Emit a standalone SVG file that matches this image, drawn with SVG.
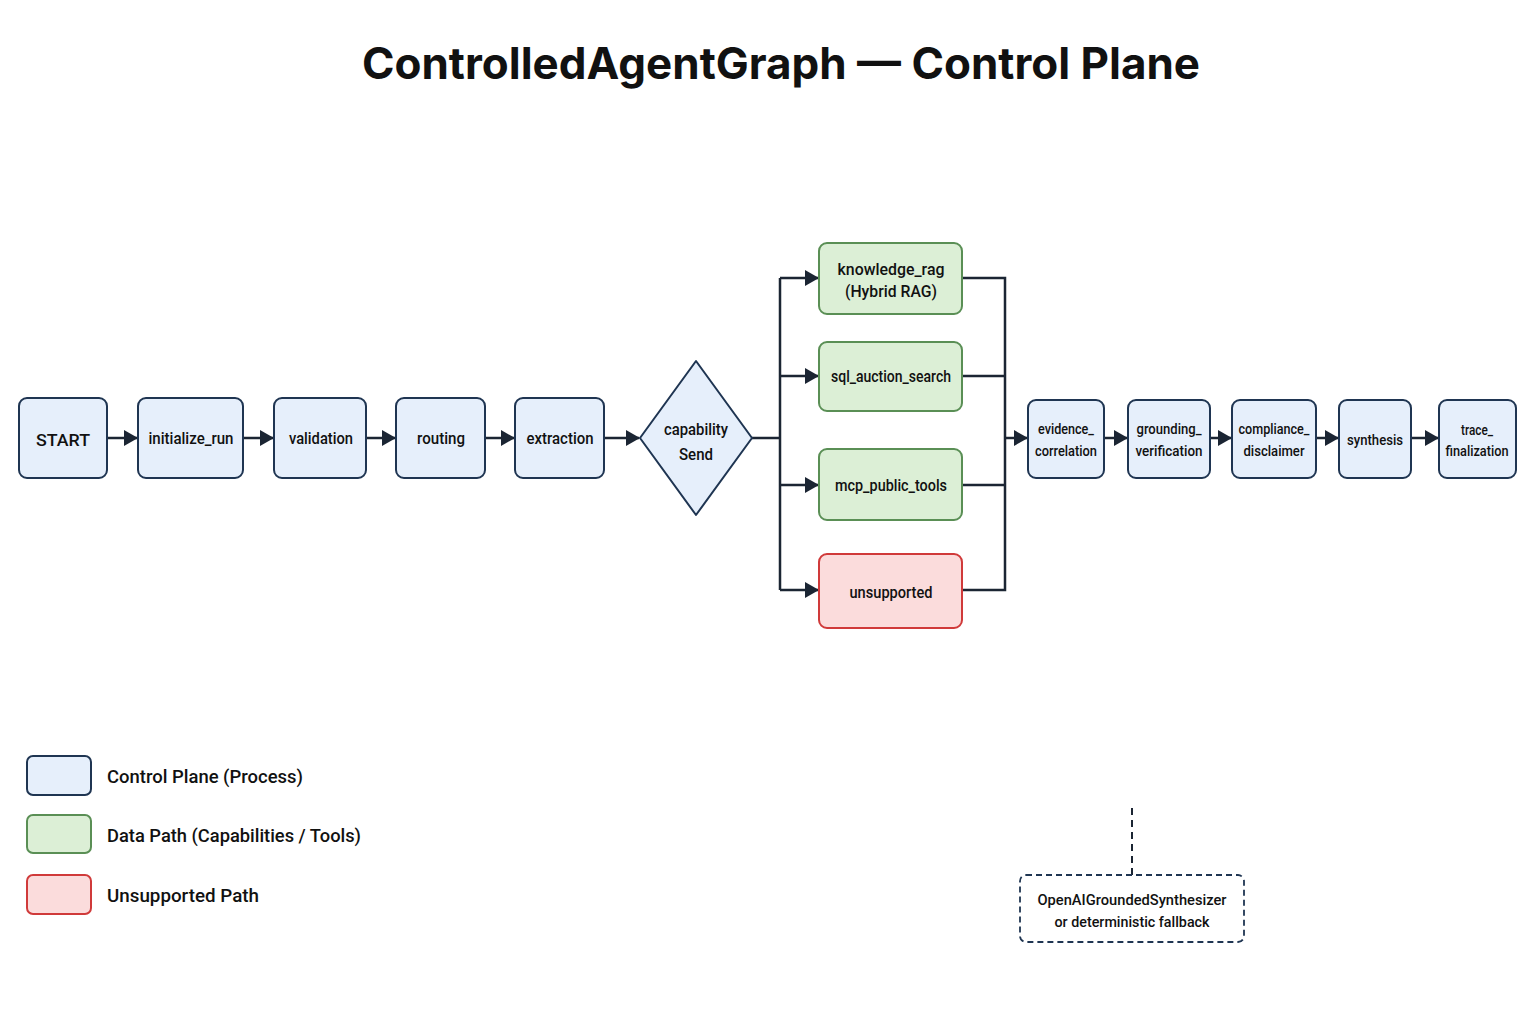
<svg xmlns="http://www.w3.org/2000/svg" width="1536" height="1024" viewBox="0 0 1536 1024">
<defs>
<marker id="ah" markerWidth="14" markerHeight="16" refX="13" refY="8" orient="auto" markerUnits="userSpaceOnUse" viewBox="0 0 14 16"><path d="M0,0 L14,8 L0,16 z" fill="#1b2533"/></marker>
<style>
.cp{fill:#e6effb;stroke:#1f3552;stroke-width:2}
.dp{fill:#dcefd6;stroke:#5a8f55;stroke-width:2}
.up{fill:#fbdcdc;stroke:#d03a3a;stroke-width:2}
.t{font-family:Roboto,"Liberation Sans",sans-serif;font-weight:500;fill:#111;text-anchor:middle;font-size:17px}
.s{font-size:14px}
.lg{font-family:Roboto,"Liberation Sans",sans-serif;font-weight:500;font-size:19px;fill:#111}
.c{fill:none;stroke:#1b2533;stroke-width:2.5}
</style>
</defs>
<rect width="1536" height="1024" fill="#fff"/>
<text x="781" y="79" font-family="Inter,'Liberation Sans',sans-serif" font-size="44" font-weight="bold" text-anchor="middle" fill="#111" textLength="838" lengthAdjust="spacingAndGlyphs">ControlledAgentGraph — Control Plane</text>
<g id="connectors">
<line class="c" x1="107" y1="438" x2="137" y2="438" marker-end="url(#ah)"/>
<line class="c" x1="243" y1="438" x2="273" y2="438" marker-end="url(#ah)"/>
<line class="c" x1="366" y1="438" x2="395" y2="438" marker-end="url(#ah)"/>
<line class="c" x1="485" y1="438" x2="514" y2="438" marker-end="url(#ah)"/>
<line class="c" x1="604" y1="438" x2="639" y2="438" marker-end="url(#ah)"/>
<path class="c" d="M752,438 H780 M780,278 V590"/>
<path class="c" d="M780,278 H818" marker-end="url(#ah)"/>
<path class="c" d="M780,376 H818" marker-end="url(#ah)"/>
<path class="c" d="M780,485 H818" marker-end="url(#ah)"/>
<path class="c" d="M780,590 H818" marker-end="url(#ah)"/>
<path class="c" d="M962,278 H1005 V590 H962 M962,376 H1005 M962,485 H1005"/>
<path class="c" d="M1005,438 H1027" marker-end="url(#ah)"/>
<line class="c" x1="1104" y1="438" x2="1127" y2="438" marker-end="url(#ah)"/>
<line class="c" x1="1210" y1="438" x2="1231" y2="438" marker-end="url(#ah)"/>
<line class="c" x1="1316" y1="438" x2="1338" y2="438" marker-end="url(#ah)"/>
<line class="c" x1="1411" y1="438" x2="1438" y2="438" marker-end="url(#ah)"/>
<line x1="1132" y1="808" x2="1132" y2="875" stroke="#1b2533" stroke-width="2" stroke-dasharray="7,5"/>
</g>
<g id="start"><rect class="cp" x="19" y="398" width="88" height="80" rx="8"/><text class="t" x="63" y="446" font-size="21" textLength="54" lengthAdjust="spacingAndGlyphs">START</text></g>
<g id="initialize_run"><rect class="cp" x="138" y="398" width="105" height="80" rx="8"/><text class="t" x="191" y="444" textLength="85" lengthAdjust="spacingAndGlyphs">initialize_run</text></g>
<g id="validation"><rect class="cp" x="274" y="398" width="92" height="80" rx="8"/><text class="t" x="321" y="444" textLength="64" lengthAdjust="spacingAndGlyphs">validation</text></g>
<g id="routing"><rect class="cp" x="396" y="398" width="89" height="80" rx="8"/><text class="t" x="441" y="444" textLength="48" lengthAdjust="spacingAndGlyphs">routing</text></g>
<g id="extraction"><rect class="cp" x="515" y="398" width="89" height="80" rx="8"/><text class="t" x="560" y="444" textLength="67" lengthAdjust="spacingAndGlyphs">extraction</text></g>
<g id="capability_send"><path class="cp" d="M696,361 L752,438 L696,515 L640,438 Z" stroke-linejoin="round"/><text class="t" x="696" y="435" textLength="64" lengthAdjust="spacingAndGlyphs">capability</text><text class="t" x="696" y="460" textLength="34" lengthAdjust="spacingAndGlyphs">Send</text></g>
<g id="knowledge_rag"><rect class="dp" x="819" y="243" width="143" height="71" rx="8"/><text class="t" x="891" y="275" textLength="107" lengthAdjust="spacingAndGlyphs">knowledge_rag</text><text class="t" x="891" y="297" textLength="92" lengthAdjust="spacingAndGlyphs">(Hybrid RAG)</text></g>
<g id="sql_auction_search"><rect class="dp" x="819" y="342" width="143" height="69" rx="8"/><text class="t" x="891" y="382" textLength="120" lengthAdjust="spacingAndGlyphs">sql_auction_search</text></g>
<g id="mcp_public_tools"><rect class="dp" x="819" y="449" width="143" height="71" rx="8"/><text class="t" x="891" y="491" textLength="112" lengthAdjust="spacingAndGlyphs">mcp_public_tools</text></g>
<g id="unsupported"><rect class="up" x="819" y="554" width="143" height="74" rx="8"/><text class="t" x="891" y="598" textLength="83" lengthAdjust="spacingAndGlyphs">unsupported</text></g>
<g id="evidence_correlation"><rect class="cp" x="1028" y="400" width="76" height="78" rx="8"/><text class="t s" x="1066" y="434" textLength="56" lengthAdjust="spacingAndGlyphs">evidence_</text><text class="t s" x="1066" y="456" textLength="62" lengthAdjust="spacingAndGlyphs">correlation</text></g>
<g id="grounding_verification"><rect class="cp" x="1128" y="400" width="82" height="78" rx="8"/><text class="t s" x="1169" y="434" textLength="65" lengthAdjust="spacingAndGlyphs">grounding_</text><text class="t s" x="1169" y="456" textLength="67" lengthAdjust="spacingAndGlyphs">verification</text></g>
<g id="compliance_disclaimer"><rect class="cp" x="1232" y="400" width="84" height="78" rx="8"/><text class="t s" x="1274" y="434" textLength="71" lengthAdjust="spacingAndGlyphs">compliance_</text><text class="t s" x="1274" y="456" textLength="61" lengthAdjust="spacingAndGlyphs">disclaimer</text></g>
<g id="synthesis"><rect class="cp" x="1339" y="400" width="72" height="78" rx="8"/><text class="t s" x="1375" y="445" textLength="56" lengthAdjust="spacingAndGlyphs">synthesis</text></g>
<g id="trace_finalization"><rect class="cp" x="1439" y="400" width="77" height="78" rx="8"/><text class="t s" x="1477" y="435" textLength="32" lengthAdjust="spacingAndGlyphs">trace_</text><text class="t s" x="1477" y="456" textLength="63" lengthAdjust="spacingAndGlyphs">finalization</text></g>
<g id="synth_note"><rect x="1020" y="875" width="224" height="67" rx="6" fill="#fff" stroke="#1f3552" stroke-width="1.8" stroke-dasharray="6,4"/><text class="t s" x="1132" y="905" textLength="189" lengthAdjust="spacingAndGlyphs">OpenAIGroundedSynthesizer</text><text class="t s" x="1132" y="927" textLength="155" lengthAdjust="spacingAndGlyphs">or deterministic fallback</text></g>
<g id="legend">
<rect class="cp" x="27" y="756" width="64" height="39" rx="6"/><text class="lg" x="107" y="783" textLength="196" lengthAdjust="spacingAndGlyphs">Control Plane (Process)</text>
<rect class="dp" x="27" y="815" width="64" height="38" rx="6"/><text class="lg" x="107" y="842" textLength="254" lengthAdjust="spacingAndGlyphs">Data Path (Capabilities / Tools)</text>
<rect class="up" x="27" y="875" width="64" height="39" rx="6"/><text class="lg" x="107" y="902" textLength="152" lengthAdjust="spacingAndGlyphs">Unsupported Path</text>
</g>
</svg>
